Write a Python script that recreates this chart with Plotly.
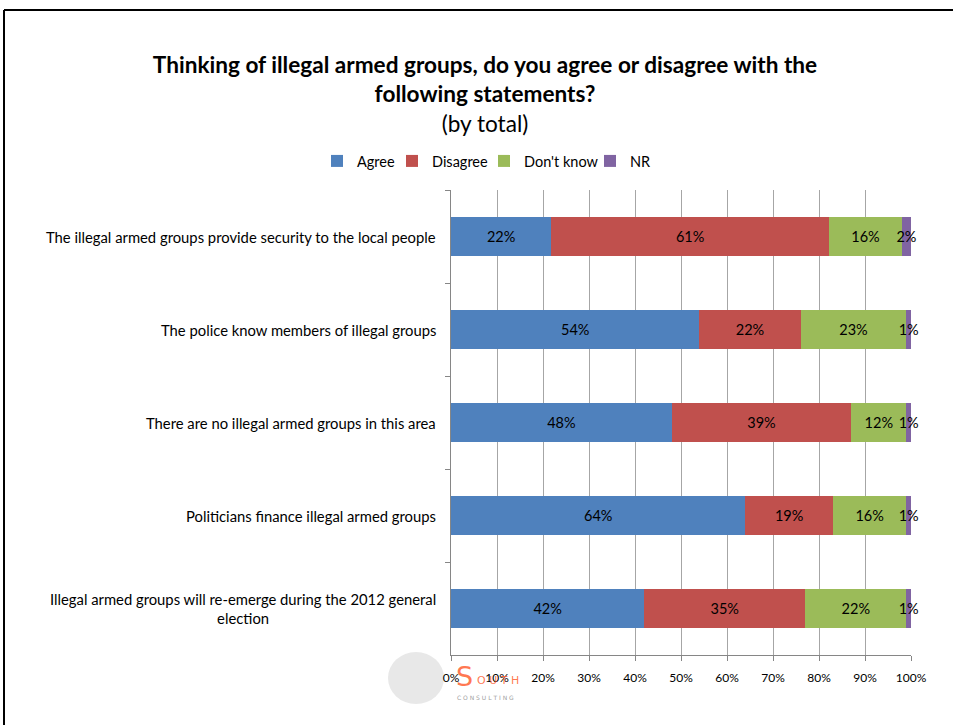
import plotly.graph_objects as go

categories = [
    "The illegal armed groups provide security to the local people",
    "The police know members of illegal groups",
    "There are no illegal armed groups in this area",
    "Politicians finance illegal armed groups",
    "Illegal armed groups will re-emerge during the 2012 general<br>election",
]
agree = [22, 54, 48, 64, 42]
disagree = [61, 22, 39, 19, 35]
dont_know = [16, 23, 12, 16, 22]
nr = [2, 1, 1, 1, 1]
series_names = ["Agree", "Disagree", "Don't know", "NR"]
series_values = [agree, disagree, dont_know, nr]
colors = ["#4F81BD", "#C0504D", "#9BBB59", "#8064A2"]
legend_widths = [30, 47, 61, 30]
x_ticks = [0, 10, 20, 30, 40, 50, 60, 70, 80, 90, 100]
x_tick_labels = [f"{t}%" for t in x_ticks]

FONT = "Lato, Calibri, Carlito, sans-serif"

fig = go.Figure()
for name, vals, col, lw in zip(series_names, series_values, colors, legend_widths):
    fig.add_trace(go.Bar(
        y=categories, x=vals, name=name, orientation="h",
        marker=dict(color=col, line=dict(width=0)),
        text=[f"{v}%" for v in vals],
        textposition="inside", insidetextanchor="middle",
        constraintext="none", textangle=0,
        textfont=dict(family=FONT, size=14.5, color="#000000"),
        cliponaxis=False, legendwidth=lw,
    ))

L, R, T, B = 451, 42, 190, 70
PW = 953 - L - R
PH = 725 - T - B

def px_x(p):
    return (p - L) / PW

def px_y(p):
    return (725 - B - p) / PH

fig.update_layout(
    width=953, height=725,
    barmode="stack", barnorm="percent", bargap=0.59,
    margin=dict(l=L, r=R, t=T, b=B),
    paper_bgcolor="white", plot_bgcolor="white",
    font=dict(family=FONT, size=14.5, color="#000000"),
    title=dict(
        text="<b>Thinking of illegal armed groups, do you agree or disagree with the<br>following statements?</b><br>(by total)",
        x=485 / 953, xanchor="center", xref="container",
        y=1 - 73 / 725, yanchor="top", yref="container",
        font=dict(family=FONT, size=22.6, color="#000000"),
    ),
    legend=dict(
        orientation="h", x=px_x(317), xanchor="left", y=px_y(161), yanchor="middle",
        font=dict(family=FONT, size=14.5, color="#000000"),
        itemwidth=30, traceorder="normal", itemclick=False,
    ),
    xaxis=dict(
        range=[0, 100], tickvals=x_ticks, ticktext=x_tick_labels,
        showgrid=True, gridcolor="#A6A6A6", gridwidth=1,
        showline=True, linecolor="#868686", linewidth=1,
        ticks="outside", ticklen=5, tickcolor="#868686",
        tickfont=dict(family=FONT, size=12, color="#000000"),
        ticklabelstandoff=7,
        zeroline=False, fixedrange=True,
    ),
    yaxis=dict(
        autorange="reversed", tickson="boundaries",
        showline=True, linecolor="#868686", linewidth=1,
        ticks="outside", ticklen=5, tickcolor="#868686",
        showticklabels=False, fixedrange=True,
    ),
    showlegend=True,
)

# category labels, centred multi-line like the original
for cat in categories:
    fig.add_annotation(text=cat, xref="paper", yref="y", x=0, y=cat,
                       xanchor="right", yanchor="middle", xshift=-13,
                       align="center", showarrow=False,
                       font=dict(family=FONT, size=14.8, color="#000000"))

# outer frame (top and left edges visible)
fig.add_shape(type="line", xref="paper", yref="paper",
              x0=px_x(4), x1=px_x(960), y0=px_y(10), y1=px_y(10),
              line=dict(color="#000000", width=2))
fig.add_shape(type="line", xref="paper", yref="paper",
              x0=px_x(4), x1=px_x(4), y0=px_y(10), y1=px_y(730),
              line=dict(color="#000000", width=2))

# logo (text approximation)
fig.add_shape(type="circle", xref="paper", yref="paper",
              x0=px_x(388), x1=px_x(444), y0=px_y(652), y1=px_y(704),
              fillcolor="rgba(205,205,205,0.45)", line=dict(width=0), layer="below")
fig.add_annotation(text="S", xref="paper", yref="paper", x=px_x(454), y=px_y(676),
                   xanchor="left", yanchor="middle", showarrow=False,
                   font=dict(family="DejaVu Sans", size=27, color="rgba(255,95,50,0.85)"))
fig.add_annotation(text="O U T H", xref="paper", yref="paper", x=px_x(475), y=px_y(680),
                   xanchor="left", yanchor="middle", showarrow=False,
                   font=dict(family="DejaVu Sans", size=11, color="rgba(255,95,50,0.85)"))
fig.add_annotation(text="C O N S U L T I N G", xref="paper", yref="paper", x=px_x(455), y=px_y(697),
                   xanchor="left", yanchor="middle", showarrow=False,
                   font=dict(family="DejaVu Sans", size=6, color="#A0A0A0"))

fig.write_html("out.html", config={"displayModeBar": False},
               post_script="document.body.style.margin='0';document.body.style.padding='0';")
